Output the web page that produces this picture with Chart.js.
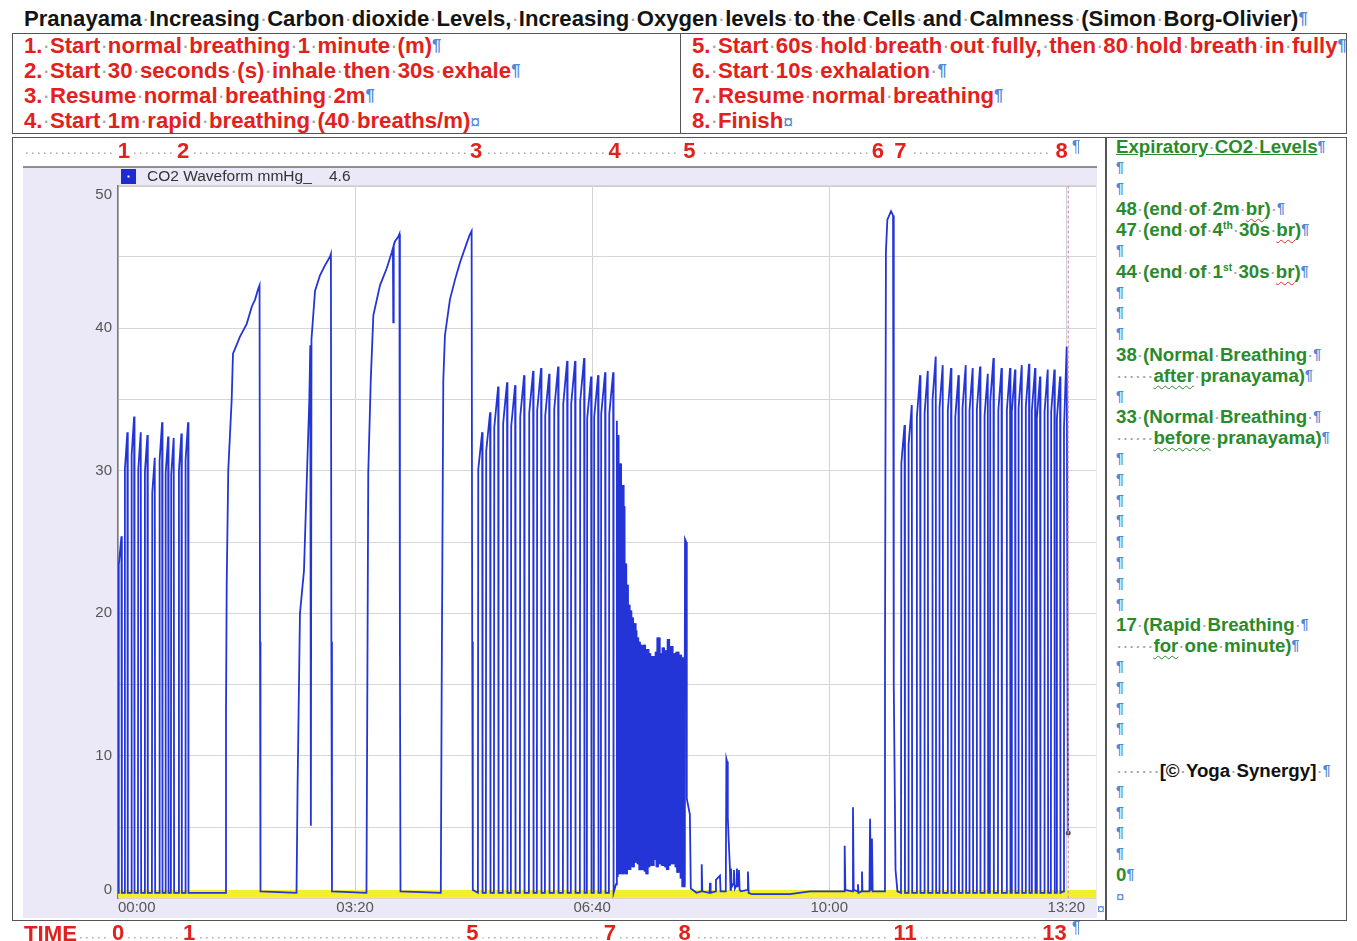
<!DOCTYPE html>
<html lang="en">
<head>
<meta charset="UTF-8">
<meta name="viewport" content="width=device-width, initial-scale=1.0">
<title>Pranayama - Expiratory CO2</title>
<style>
  html, body { margin: 0; padding: 0; background: #fff; }
  body { position: relative; width: 1357px; height: 941px; overflow: hidden; font-family: 'Liberation Sans', Arial, sans-serif; }
  .abs { position: absolute; white-space: nowrap; }
  .frame { position: absolute; border: 1.5px solid #555; box-sizing: border-box; }
  .vline { position: absolute; width: 1.5px; background: #555; }
  #title { left: 24px; top: 5px; font-size: 22.1px; line-height: 28px; font-weight: bold; color: #141414; }
  .steps { top: 32.5px; font-size: 22.2px; font-weight: bold; color: #e3211c; }
  .steps div { height: 25px; line-height: 25px; }
  #notes { left: 1116px; top: 137px; font-size: 18.7px; font-weight: bold; color: #2b8a2b; }
  #notes div { height: 20.8px; line-height: 20.8px; }
  .d { color: #a3a3a3; font-weight: normal; }
  .p { color: #5089d6; font-size: 0.75em; vertical-align: 0.15em; line-height: 0; }
  .cm { color: #5089d6; font-size: 0.8em; font-weight: normal; line-height: 0; }
  .wavy { text-decoration: underline wavy #e0302a; text-decoration-thickness: 1px; text-underline-offset: 3px; }
  .gwavy { text-decoration: underline wavy #2b8a2b; text-decoration-thickness: 1px; text-underline-offset: 3px; }
  sup { font-size: 0.55em; vertical-align: 0.7em; line-height: 0; }
  #time { left: 24px; top: 921px; font-size: 22.2px; line-height: 25px; font-weight: bold; color: #e3211c; }
  canvas { position: absolute; left: 12px; top: 137px; }
</style>
</head>
<body>
  <div id="title" class="abs">Pranayama Increasing Carbon dioxide Levels, Increasing Oxygen levels to the Cells and Calmness (Simon Borg-Olivier)<span class="p">¶</span></div>

  <div class="frame" style="left:12px; top:33px; width:1335px; height:101px;"></div>
  <div class="vline" style="left:679.5px; top:33px; height:101px;"></div>
  <div id="stepsLeft" class="abs steps" style="left:24px;"></div>
  <div id="stepsRight" class="abs steps" style="left:692px;"></div>

  <div class="frame" style="left:12px; top:137px; width:1335px; height:784px;"></div>
  <div class="vline" style="left:1105px; top:137px; height:784px;"></div>
  <div id="notes" class="abs"></div>

  <canvas id="co2-chart" width="1094" height="804"></canvas>

  <div id="time" class="abs">TIME</div>
  <span class="abs p" style="left:1072px; top:147px; font-size:16px;">¶</span>
  <span class="abs p" style="left:1072px; top:928px; font-size:16px;">¶</span>
  <span class="abs cm" style="left:1097px; top:909px; font-size:14px;">¤</span>

  <script src="https://cdn.jsdelivr.net/npm/chart.js"></script>
  <script>
    // ---- axes (time in seconds, CO2 in mmHg) ----
    const xMaxSeconds = 825;
    const xTickSeconds = [0, 200, 400, 600, 800];
    const xTickLabels = ['00:00', '03:20', '06:40', '10:00', '13:20'];
    const yGridValues = [0, 5, 10, 15, 20, 25, 30, 35, 40, 45, 50];
    const yTickLabels = ['0', '10', '20', '30', '40', '50'];

    // step numbers written above the trace, and minutes written below it
    const stepMarkLabels = ['1', '2', '3', '4', '5', '6', '7', '8'];
    const stepMarkSeconds = [5, 55, 302, 419, 482, 641, 660, 796];
    const minuteLabels = ['0', '1', '5', '7', '8', '11', '13'];
    const minuteSeconds = [0, 60, 299, 415, 478, 664, 790];

    // 1. normal breathing: time of each breath and its peak
    const startBreathT = [1.7, 6.7, 12.4, 18.0, 23.6, 29.8, 36.0, 41.1, 45.8, 52.3, 57.9];
    const startBreathPk = [25.4, 32.7, 33.8, 32.7, 32.5, 30.9, 33.4, 32.4, 32.3, 32.6, 33.4];

    // 2. four slow 30s breaths, traced point by point [s, mmHg]
    const slowWave1 = [[90.3, 0.4], [91.1, 12.9], [91.7, 22], [93.0, 30], [95.9, 35], [97.0, 38.2], [102.9, 39.4], [108.6, 40.3], [112.8, 41.5], [115.6, 42], [118.1, 42.7], [119.4, 43.0], [119.8, 18], [120.2, 0.5]];
    const slowWave2 = [[150.6, 0.4], [151.5, 8], [153.5, 20], [156.9, 23], [159.5, 30], [161.4, 35], [162.2, 38.8], [162.7, 5.1], [163.2, 39.2], [166.2, 42.6], [170.4, 43.7], [174.6, 44.4], [178.8, 45.0], [179.6, 45.2], [180.0, 18], [180.5, 0.5]];
    const slowWave3 = [[209.6, 0.4], [210.3, 14], [211.1, 29.8], [213.2, 36.3], [215.4, 40.9], [221.0, 43], [226.7, 44.2], [230.9, 45.3], [231.9, 45.6], [232.2, 40.4], [232.6, 45.8], [233.7, 46.1], [236.4, 46.4], [237.4, 46.6], [237.8, 18], [238.3, 0.5]];
    const slowWave4 = [[272.3, 0.4], [273.0, 14], [274.4, 36.3], [275.8, 39.5], [280.0, 42], [284.3, 43.4], [288.5, 44.6], [293.5, 45.8], [296.5, 46.5], [298.3, 46.8], [298.8, 18], [299.3, 0.6]];

    // 3. normal breathing after pranayama
    const afterBreathT = [305.4, 312.1, 318.9, 326.4, 333.2, 340.8, 348.4, 355.1, 361.9, 369.5, 377.1, 383.8, 391.4, 397.3, 403.2, 409.1, 415.9];
    const afterBreathPk = [32.7, 34.1, 35.9, 36.2, 36.0, 36.7, 37.0, 37.2, 36.8, 37.3, 37.7, 37.7, 37.9, 36.6, 36.7, 36.9, 36.9];

    // 4. rapid breathing, 40 breaths in one minute: peaks and troughs
    const rapidStart = 420.1;
    const rapidPeriod = 1.45;
    const rapidPk = [33.5, 32.5, 30.5, 29.0, 27.5, 23.5, 22.0, 20.6, 20.2, 19.7, 19.3, 18.8, 18.3, 18.0, 17.8, 17.6, 17.8, 17.3, 17.5, 17.2,
                     16.9, 17.0, 16.9, 17.3, 18.3, 16.0, 17.2, 17.6, 17.0, 17.4, 18.2, 17.1, 17.7, 15.6, 17.2, 17.3, 16.9, 17.1, 16.9, 16.9];
    const rapidLow = [1.0, 1.5, 1.7, 1.8, 1.7, 1.9, 1.7, 2.2, 2.0, 2.3, 2.2, 2.5, 2.8, 2.4, 2.1, 2.3, 2.0, 1.9, 1.7, 2.2,
                      2.6, 2.4, 3.0, 2.7, 2.2, 2.4, 2.6, 2.3, 2.4, 2.2, 2.0, 2.3, 2.6, 2.4, 2.7, 2.2, 1.8, 2.0, 1.4, 0.9];

    // 5. breath held out, then in [s, mmHg]
    const holdPts = [[477.8, 1.0], [478.3, 25.2], [479.3, 25.0], [479.8, 7.0], [482.4, 5.9], [483.2, 0.7],
      [488.0, 0.4], [492.0, 0.5], [492.4, 2.4], [492.9, 0.5], [499.0, 0.4], [499.4, 1.1], [499.9, 0.4],
      [504.0, 0.5], [504.4, 1.3], [507.8, 1.6], [508.3, 0.5],
      [512.7, 0.5], [513.2, 9.8], [513.8, 9.6], [514.4, 5.7], [515.2, 4.0], [516.2, 2.1], [516.7, 0.6],
      [517.1, 2.1], [517.6, 0.8], [518.8, 1.0], [519.6, 2.0], [520.4, 0.7], [521.6, 0.9], [522.1, 2.1], [522.6, 0.8],
      [523.4, 1.5], [523.8, 2.0], [524.4, 0.6], [525.5, 0.5], [530.8, 0.6], [531.4, 1.9], [532.0, 0.4],
      [534.8, 0.3], [566.8, 0.3], [583.7, 0.5], [609.0, 0.5],
      [612.5, 0.5], [613.0, 3.7], [613.6, 0.6], [619.5, 0.5], [620.0, 6.4], [620.6, 0.6],
      [623.8, 0.5], [624.2, 1.0], [624.6, 0.4], [627.2, 0.5], [627.6, 1.9], [628.0, 0.5],
      [633.9, 0.5], [634.4, 5.6], [635.2, 0.6], [636.0, 4.2], [636.6, 0.5], [646.6, 0.5]];
    // 6. 10s exhalation peak
    const exhalePts = [[647.0, 17], [647.8, 45.4], [649.0, 47.6], [652.1, 48.2], [653.8, 47.9], [654.4, 15], [655.9, 2], [657.5, 0.5]];

    // 7. normal breathing resumed
    const endBreathT = [662.0, 668.1, 675.1, 681.6, 688.3, 694.2, 701.2, 707.5, 713.6, 719.5, 725.7, 732.2, 737.0, 743.8,
                        751.0, 755.2, 760.9, 767.0, 772.1, 776.3, 782.8, 788.4, 793.2];
    const endBreathPk = [33.2, 34.6, 36.7, 37.0, 38.0, 37.4, 37.2, 36.7, 37.4, 37.2, 37.3, 36.8, 37.9, 37.2,
                         37.2, 37.1, 37.4, 37.5, 37.2, 36.6, 37.1, 37.1, 36.6];
    const finishPts = [[797.6, 0.5], [798.0, 33], [800.3, 38.7], [801.5, 4.6]];

    // cursor readout and zero band
    const cursorSeconds = 801.6;
    const cursorValue = 4.6;
    const zeroBandTop = 0.6;

    // ---- build the trace ----
    const baseline = 0.4;
    const co2Points = [{ x: 0, y: baseline }];
    const rapidPoints = [];

    function addBreaths(times, peaks, width) {
      times.forEach((t, i) => {
        const a = t - width / 2, b = t + width / 2;
        co2Points.push({ x: a, y: baseline }, { x: a + 0.3, y: peaks[i] * 0.92 }, { x: b, y: peaks[i] }, { x: b + 0.35, y: baseline });
      });
    }
    function addPairs(pairs) {
      pairs.forEach(([x, y]) => co2Points.push({ x, y }));
    }

    addBreaths(startBreathT, startBreathPk, 2.4);
    [slowWave1, slowWave2, slowWave3, slowWave4].forEach(addPairs);
    addBreaths(afterBreathT, afterBreathPk, 3.6);
    rapidPk.forEach((pk, i) => {
      const t = rapidStart + i * rapidPeriod;
      const pair = [{ x: t, y: rapidLow[i] }, { x: t + 0.72, y: pk }];
      co2Points.push(...pair);
      if (i > 1) rapidPoints.push(...pair);
    });
    addPairs(holdPts);
    addPairs(exhalePts);
    addBreaths(endBreathT, endBreathPk, 3.0);
    addPairs(finishPts);

    // ---- page text ----
    const stepsLeft = ['1. Start normal breathing 1 minute (m)<span class="p">¶</span>',
      '2. Start 30 seconds (s) inhale then 30s exhale<span class="p">¶</span>',
      '3. Resume normal breathing 2m<span class="p">¶</span>',
      '4. Start 1m rapid breathing (40 breaths/m)<span class="cm">¤</span>'];
    const stepsRight = ['5. Start 60s hold breath out fully, then 80 hold breath in fully<span class="p">¶</span>',
      '6. Start 10s exhalation <span class="p">¶</span>',
      '7. Resume normal breathing<span class="p">¶</span>',
      '8. Finish<span class="cm">¤</span>'];
    const notes = ['<u>Expiratory CO2 Levels</u>', '', '',
      '48 (end of 2m <span class="wavy">br</span>) ',
      '47 (end of 4<sup>th</sup> 30s <span class="wavy">br</span>)', '',
      '44 (end of 1<sup>st</sup> 30s <span class="wavy">br</span>)', '', '', '',
      '38 (Normal Breathing ', '      <span class="gwavy">after</span> pranayama)', '',
      '33 (Normal Breathing ', '      <span class="gwavy">before</span> pranayama)',
      '', '', '', '', '', '', '', '',
      '17 (Rapid Breathing ', '      <span class="gwavy">for</span> one minute)',
      '', '', '', '', '',
      '       <span style="color:#111">[© Yoga Synergy]</span> ',
      '', '', '', '', '0'];

    function fillLines(id, lines, withMark) {
      const box = document.getElementById(id);
      lines.forEach(html => {
        const div = document.createElement('div');
        div.innerHTML = html + (withMark ? '<span class="p">¶</span>' : '');
        box.appendChild(div);
      });
    }
    fillLines('stepsLeft', stepsLeft, false);
    fillLines('stepsRight', stepsRight, false);
    fillLines('notes', notes, true);
    const endCell = document.createElement('div');
    endCell.innerHTML = '<span class="cm">¤</span>';
    document.getElementById('notes').appendChild(endCell);

    // show spaces as Word formatting dots
    function showSpaces(el) {
      const walker = document.createTreeWalker(el, NodeFilter.SHOW_TEXT);
      const nodes = [];
      while (walker.nextNode()) nodes.push(walker.currentNode);
      nodes.forEach(n => {
        if (!n.nodeValue.includes(' ')) return;
        const frag = document.createDocumentFragment();
        n.nodeValue.split(' ').forEach((part, i) => {
          if (i) {
            const s = document.createElement('span');
            s.className = 'd';
            s.textContent = '·';
            frag.appendChild(s);
          }
          if (part) frag.appendChild(document.createTextNode(part));
        });
        n.parentNode.replaceChild(frag, n);
      });
    }
    ['title', 'stepsLeft', 'stepsRight', 'notes'].forEach(id => showSpaces(document.getElementById(id)));

    // ---- chart ----
    const fontFamily = "'Liberation Sans', Arial, sans-serif";
    const red = '#e3211c';
    const traceBlue = '#2435d8';

    // lavender panel, legend strip and dotted leaders
    const panelPlugin = {
      id: 'panel',
      beforeDraw(chart) {
        const { ctx, chartArea: a } = chart;
        const stripTop = a.top - 18.5;
        ctx.save();
        ctx.fillStyle = '#ebe9f7';
        ctx.fillRect(11, stripTop, a.right + 1 - 11, a.bottom + 19.5 - stripTop);
        ctx.fillStyle = '#fff';
        ctx.fillRect(a.left, a.top, a.right - a.left, a.bottom - a.top);

        ctx.strokeStyle = '#6b6b6b';
        ctx.lineWidth = 1.5;
        ctx.beginPath();
        ctx.moveTo(11, stripTop);
        ctx.lineTo(a.right + 1, stripTop);
        ctx.stroke();
        ctx.strokeStyle = '#a0a0a0';
        ctx.lineWidth = 1;
        ctx.beginPath();
        ctx.moveTo(a.left, a.top + 0.5);
        ctx.lineTo(a.right, a.top + 0.5);
        ctx.stroke();

        // legend
        const ds = chart.data.datasets[0];
        ctx.fillStyle = '#1d2bd0';
        ctx.fillRect(a.left + 3, stripTop + 2, 15, 15);
        ctx.fillStyle = '#fff';
        ctx.fillRect(a.left + 9.5, stripTop + 8.5, 2, 2);
        ctx.fillStyle = '#333';
        ctx.font = '15.5px ' + fontFamily;
        ctx.textBaseline = 'middle';
        ctx.fillText(ds.label, a.left + 29, stripTop + 9.5);
        ctx.fillText(cursorValue.toFixed(1), a.left + 211, stripTop + 9.5);

        // dotted leaders behind the step numbers and the minutes
        const top = chart.scales.xTop, mins = chart.scales.xMin;
        ctx.strokeStyle = '#a8a8a8';
        ctx.lineWidth = 1.5;
        ctx.setLineDash([1.5, 4.5]);
        ctx.beginPath();
        ctx.moveTo(14, a.top - 32.2);
        ctx.lineTo(top.getPixelForValue(stepMarkSeconds[stepMarkSeconds.length - 1]), a.top - 32.2);
        ctx.moveTo(68, a.bottom + 39.2);
        ctx.lineTo(mins.getPixelForValue(minuteSeconds[minuteSeconds.length - 1]), a.bottom + 39.2);
        ctx.stroke();
        ctx.restore();
      }
    };

    const markTicks = (values) => (scale) => { scale.ticks = values.map(v => ({ value: v })); };

    new Chart(document.getElementById('co2-chart'), {
      type: 'line',
      data: {
        datasets: [
          {
            label: 'CO2 Waveform mmHg_',
            data: co2Points,
            borderColor: traceBlue,
            borderWidth: 1.8,
            pointRadius: 0,
            fill: false,
            order: 1
          },
          {
            // the 40 breaths/min stretch is so dense on the recorder that it reads as solid
            label: 'rapid breathing',
            data: rapidPoints,
            borderColor: traceBlue,
            borderWidth: 3.4,
            pointRadius: 0,
            fill: false,
            order: 1
          },
          {
            label: 'cursor',
            data: [{ x: cursorSeconds, y: 0 }, { x: cursorSeconds, y: 50 }],
            borderColor: '#d49cc4',
            borderDash: [3, 2],
            borderWidth: 1.3,
            pointRadius: 0,
            order: 0
          },
          {
            label: 'cursor value',
            data: [{ x: cursorSeconds, y: cursorValue }],
            showLine: false,
            pointRadius: 2.5,
            pointBackgroundColor: '#555',
            pointBorderWidth: 0,
            order: 0
          },
          {
            label: 'zero band',
            data: [{ x: 0, y: zeroBandTop }, { x: xMaxSeconds, y: zeroBandTop }],
            fill: 'origin',
            backgroundColor: '#f4ef2b',
            borderWidth: 0,
            pointRadius: 0,
            order: 3
          }
        ]
      },
      options: {
        responsive: false,
        animation: false,
        devicePixelRatio: 1,
        layout: { padding: { left: 0, right: 10, top: 0, bottom: 0 } },
        plugins: { legend: { display: false }, tooltip: { enabled: false } },
        scales: {
          x: {
            type: 'linear',
            position: 'bottom',
            min: 0,
            max: xMaxSeconds,
            afterBuildTicks: markTicks([...xTickSeconds, xMaxSeconds]),
            afterFit: (s) => { s.height = 18; },
            grid: {
              color: (c) => (c.tick && c.tick.value > xTickSeconds[xTickSeconds.length - 1]) ? 'rgba(0,0,0,0)' : '#d3d3d3',
              drawTicks: false
            },
            border: { display: false },
            ticks: {
              align: 'inner',
              padding: 0.5,
              autoSkip: false,
              maxRotation: 0,
              color: '#555',
              font: { family: fontFamily, size: 15 },
              callback: (v, i) => xTickLabels[i] || ''
            }
          },
          xMin: {
            axis: 'x',
            type: 'linear',
            position: 'bottom',
            weight: 1,
            min: 0,
            max: xMaxSeconds,
            afterBuildTicks: markTicks(minuteSeconds),
            afterFit: (s) => { s.height = 24.5; },
            grid: { display: false, drawTicks: false },
            border: { display: false },
            ticks: {
              padding: 4.3,
              autoSkip: false,
              maxRotation: 0,
              color: red,
              font: { family: fontFamily, size: 22, weight: 'bold' },
              showLabelBackdrop: true,
              backdropColor: '#fff',
              backdropPadding: { x: 4, y: -4 },
              callback: (v, i) => minuteLabels[i]
            }
          },
          xTop: {
            axis: 'x',
            type: 'linear',
            position: 'top',
            min: 0,
            max: xMaxSeconds,
            afterBuildTicks: markTicks(stepMarkSeconds),
            afterFit: (s) => { s.height = 48.5; },
            grid: { display: false, drawTicks: false },
            border: { display: false },
            ticks: {
              padding: 20.5,
              autoSkip: false,
              maxRotation: 0,
              color: red,
              font: { family: fontFamily, size: 22, weight: 'bold' },
              showLabelBackdrop: true,
              backdropColor: '#fff',
              backdropPadding: { x: 4, y: -4 },
              callback: (v, i) => stepMarkLabels[i]
            }
          },
          y: {
            type: 'linear',
            min: 0,
            max: 50,
            afterBuildTicks: markTicks(yGridValues),
            afterFit: (s) => { s.width = 106; },
            grid: { color: '#d6d6d6', drawTicks: false },
            border: { display: true, color: '#7a7a7a', width: 1.5 },
            ticks: {
              padding: 6,
              autoSkip: false,
              color: '#555',
              font: { family: fontFamily, size: 15 },
              callback: (v) => {
                const label = yTickLabels.includes(String(v)) ? String(v) : '';
                if (v === 0) return [label, ''];
                if (v === 50) return ['', label];
                return label;
              }
            }
          }
        }
      },
      plugins: [panelPlugin]
    });
  </script>
</body>
</html>
